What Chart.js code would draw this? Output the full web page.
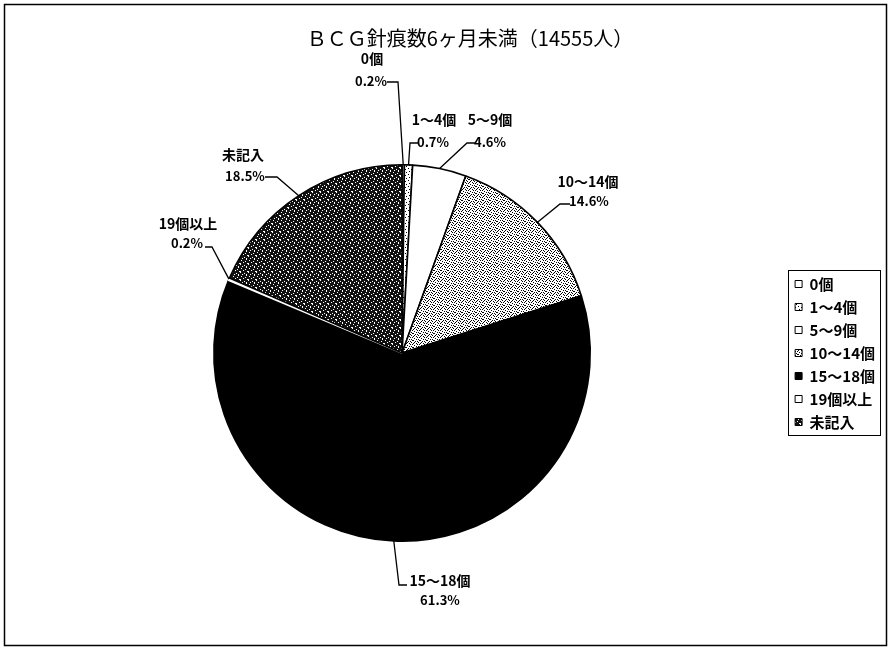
<!DOCTYPE html>
<html lang="ja">
<head>
<meta charset="utf-8">
<title>BCG針痕数6ヶ月未満</title>
<script src="https://cdn.jsdelivr.net/npm/chart.js@4.4.1/dist/chart.umd.min.js"></script>
<style>
  html, body { margin: 0; padding: 0; background: #fff; }
  canvas { display: block; }
</style>
</head>
<body>
<canvas id="grafico" width="888" height="647"></canvas>
<script>
"use strict";
//Data
const chartTitle = "ＢＣＧ針痕数6ヶ月未満（14555人）";
const categories = ["0個", "1～4個", "5～9個", "10～14個", "15～18個", "19個以上", "未記入"];
const shares = [0.2, 0.7, 4.6, 14.6, 61.3, 0.2, 18.5];

const FONT = '"Noto Sans CJK JP", "Noto Sans", sans-serif';
const canvas = document.getElementById("grafico");

//Label placement (name centre, percent centre, leader start, leader elbow)
const labelSpots = [
  { name: [372, 59], pct: [371, 81], from: [387, 82], elbow: [398, 82] },
  { name: [434, 120], pct: [433, 142], from: [419, 143], elbow: [410, 143] },
  { name: [490, 120], pct: [490, 142], from: [475, 143], elbow: [467, 143] },
  { name: [588, 182], pct: [589, 201], from: [570, 204], elbow: [560, 204] },
  { name: [440, 581], pct: [440, 600], from: [407, 585], elbow: [399, 585] },
  { name: [188, 224], pct: [187, 243], from: [205, 247], elbow: [212, 247] },
  { name: [243, 155], pct: [245, 176], from: [265, 177], elbow: [277, 177] },
];

//Stipple fills
const makePattern = (rows, ink, paper) => {
  const tile = document.createElement("canvas");
  tile.width = rows[0].length;
  tile.height = rows.length;
  const t = tile.getContext("2d");
  t.fillStyle = paper;
  t.fillRect(0, 0, tile.width, tile.height);
  t.fillStyle = ink;
  rows.forEach((row, y) => {
    [...row].forEach((ch, x) => {
      if (ch === "#") t.fillRect(x, y, 1, 1);
    });
  });
  return canvas.getContext("2d").createPattern(tile, "repeat");
};

const lightDots = makePattern([
  "#.....",
  "...#..",
  "......",
  ".#....",
  "....#.",
  "......",
], "#000", "#fff");

const greyDots = makePattern([
  "#..#...",
  "....#.#",
  ".#.....",
  "...#.#.",
  "#.....#",
  "..#.#..",
  ".#...#.",
], "#000", "#fff");

const darkDots = makePattern([
  "#.......",
  "....#...",
  "..#...#.",
  "......#.",
  ".#......",
  ".....#..",
  "...#....",
  "#......#",
], "#fff", "#111");

const fills = ["#fff", lightDots, "#fff", greyDots, "#000", "#fff", darkDots];
const edges = ["#000", "#000", "#000", "#000", "#000", "#fff", "#000"];

//Frame and white background
const framePlugin = {
  id: "frame",
  beforeDraw(chart) {
    const c = chart.ctx;
    c.save();
    c.fillStyle = "#fff";
    c.fillRect(0, 0, chart.width, chart.height);
    c.strokeStyle = "#000";
    c.lineWidth = 1.5;
    c.strokeRect(4.5, 4.5, 882, 641);
    c.restore();
  },
};

//Title, placed like the original sheet
const titlePlugin = {
  id: "sheetTitle",
  afterDraw(chart) {
    const c = chart.ctx;
    c.save();
    c.fillStyle = "#000";
    c.font = `20px ${FONT}`;
    c.textAlign = "center";
    c.textBaseline = "middle";
    c.fillText(chartTitle, 470, 38);
    c.restore();
  },
};

//Slice labels with leader lines
const labelPlugin = {
  id: "sliceLabels",
  afterDraw(chart) {
    const c = chart.ctx;
    const arcs = chart.getDatasetMeta(0).data;
    c.save();
    c.strokeStyle = "#000";
    c.lineWidth = 1.3;
    c.fillStyle = "#000";
    c.textAlign = "center";
    c.textBaseline = "middle";
    arcs.forEach((arc, i) => {
      const s = labelSpots[i];
      const mid = (arc.startAngle + arc.endAngle) / 2;
      const rimX = arc.x + Math.cos(mid) * arc.outerRadius;
      const rimY = arc.y + Math.sin(mid) * arc.outerRadius;
      c.beginPath();
      c.moveTo(s.from[0], s.from[1]);
      c.lineTo(s.elbow[0], s.elbow[1]);
      c.lineTo(rimX, rimY);
      c.stroke();
      c.font = `bold 14px ${FONT}`;
      c.fillText(categories[i], s.name[0], s.name[1]);
      c.font = `bold 13px ${FONT}`;
      c.fillText(shares[i].toFixed(1) + "%", s.pct[0], s.pct[1]);
    });
    c.restore();
  },
};

//Box round the legend
const legendBoxPlugin = {
  id: "legendBox",
  afterDraw(chart) {
    const boxes = chart.legend.legendHitBoxes;
    if (!boxes.length) return;
    const left = Math.min(...boxes.map(b => b.left)) - 7;
    const top = Math.min(...boxes.map(b => b.top)) - 7;
    const right = Math.max(...boxes.map(b => b.left + b.width)) + 5;
    const bottom = Math.max(...boxes.map(b => b.top + b.height)) + 5;
    const c = chart.ctx;
    c.save();
    c.strokeStyle = "#000";
    c.lineWidth = 1;
    c.strokeRect(Math.round(left) + 0.5, Math.round(top) + 0.5, Math.round(right - left), Math.round(bottom - top));
    c.restore();
  },
};

const chartPie = new Chart(canvas, {
  type: "pie",
  data: {
    labels: categories,
    datasets: [
      {
        data: shares,
        backgroundColor: fills,
        borderColor: edges,
        borderWidth: 1.6,
      },
    ],
  },
  options: {
    responsive: false,
    animation: false,
    layout: {
      padding: { top: 164, bottom: 105, left: 17, right: 3 },
    },
    plugins: {
      title: { display: false },
      tooltip: { enabled: false },
      legend: {
        display: true,
        position: "right",
        labels: {
          color: "#000",
          boxWidth: 7,
          boxHeight: 7,
          padding: 8,
          font: { family: FONT, size: 15, weight: "bold" },
          generateLabels: (chart) => {
            const items = Chart.overrides.pie.plugins.legend.labels.generateLabels(chart);
            return items.map(item => ({ ...item, strokeStyle: "#000", lineWidth: 1 }));
          },
        },
      },
    },
  },
  plugins: [framePlugin, titlePlugin, labelPlugin, legendBoxPlugin],
});
</script>
</body>
</html>
